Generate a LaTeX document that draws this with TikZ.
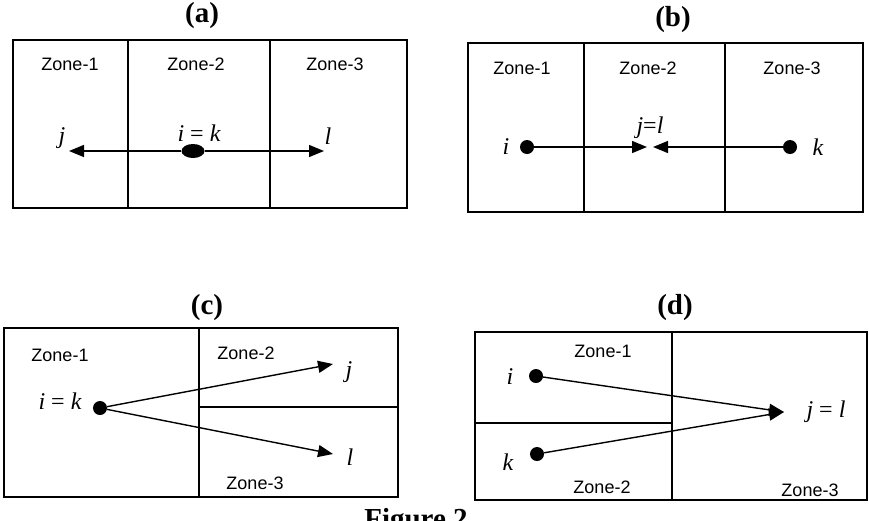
\documentclass[tikz,border=0pt]{standalone}
\usepackage{fontspec}
\setmainfont{Liberation Serif}
\setsansfont{Liberation Sans}
\usetikzlibrary{arrows.meta,shapes.geometric}
\tikzset{
  box/.style={draw, line width=1.5pt},
  divider/.style={line width=1.4pt},
  zone/.style={font=\sffamily\fontsize{18}{18}\selectfont, inner sep=0pt},
  ttl/.style={font=\bfseries\fontsize{29}{29}\selectfont, inner sep=0pt},
  lab/.style={font=\itshape\fontsize{24}{24}\selectfont, inner sep=0pt},
  dot/.style={circle, fill=black, inner sep=0pt, minimum size=14pt},
  conn/.style={line width=1.4pt, -{Triangle[length=15pt,width=12pt]}},
}
\begin{document}
\begin{tikzpicture}[x=1pt,y=-1pt]
\useasboundingbox (0,0) rectangle (869,520);
% ---------- (a)
\node[ttl] (ta) at (202,16) {(a)};
\draw[box] (13,40) rectangle (407,208);
\draw[divider] (128,40) -- (128,208);
\draw[divider] (270,40) -- (270,208);
\node[zone] (a1) at (70,64) {Zone-1};
\node[zone] (a2) at (196,64) {Zone-2};
\node[zone] (a3) at (335,64) {Zone-3};
\node[ellipse, fill=black, inner sep=0pt, minimum width=23pt, minimum height=14pt] (aik) at (193,151) {};
\coordinate (aj) at (69,151);
\coordinate (al) at (324,151);
\draw[conn] (aik) -- (aj);
\draw[conn] (aik) -- (al);
\node[lab] (ljA) at (62,138) {j};
\node[lab] (likA) at (199,133) {i {\upshape=} k};
\node[lab] (llA) at (328,136) {l};
% ---------- (b)
\node[ttl] (tb) at (673,20) {(b)};
\draw[box] (468,43) rectangle (863,212);
\draw[divider] (584,43) -- (584,212);
\draw[divider] (725,43) -- (725,212);
\node[zone] (b1) at (522,68) {Zone-1};
\node[zone] (b2) at (648,68) {Zone-2};
\node[zone] (b3) at (792,68) {Zone-3};
\node[dot] (bi) at (527,147) {};
\node[dot] (bk) at (790,147) {};
\coordinate (bjl1) at (647,147);
\coordinate (bjl2) at (653,147);
\draw[conn] (bi) -- (bjl1);
\draw[conn] (bk) -- (bjl2);
\node[lab] (ljlB) at (650,128) {j{\upshape=}l};
\node[lab] (liB) at (506,147) {i};
\node[lab] (lkB) at (818,147) {k};
% ---------- (c)
\node[ttl] (tc) at (207,308) {(c)};
\draw[box] (4,328) rectangle (398,497);
\draw[divider] (199,328) -- (199,497);
\draw[divider] (199,407) -- (398,407);
\node[zone] (c1) at (60,355) {Zone-1};
\node[zone] (c2) at (246,353) {Zone-2};
\node[zone] (c3) at (255,483) {Zone-3};
\node[dot] (cik) at (100,408) {};
\coordinate (cj) at (333,364);
\coordinate (cl) at (333,454);
\draw[conn] (cik) -- (cj);
\draw[conn] (cik) -- (cl);
\node[lab] (ljC) at (349,372) {j};
\node[lab] (llC) at (350,457) {l};
\node[lab] (likC) at (60,401) {i {\upshape=} k};
% ---------- (d)
\node[ttl] (td) at (675,308) {(d)};
\draw[box] (475,332) rectangle (867,500);
\draw[divider] (672,332) -- (672,500);
\draw[divider] (475,423) -- (672,423);
\node[zone] (d1) at (603,351) {Zone-1};
\node[zone] (d2) at (602,487) {Zone-2};
\node[zone] (d3) at (810,490) {Zone-3};
\node[dot] (di) at (536,376) {};
\node[dot] (dk) at (537,454) {};
\coordinate (djl) at (784,412);
\draw[conn] (di) -- (djl);
\draw[conn] (dk) -- (djl);
\node[lab] (ljlD) at (826,412) {j {\upshape=} l};
\node[lab] (liD) at (510,377) {i};
\node[lab] (lkD) at (508,462) {k};
% ---------- caption
\node[ttl, anchor=base] (cap) at (416,528) {Figure 2};
\end{tikzpicture}
\end{document}
